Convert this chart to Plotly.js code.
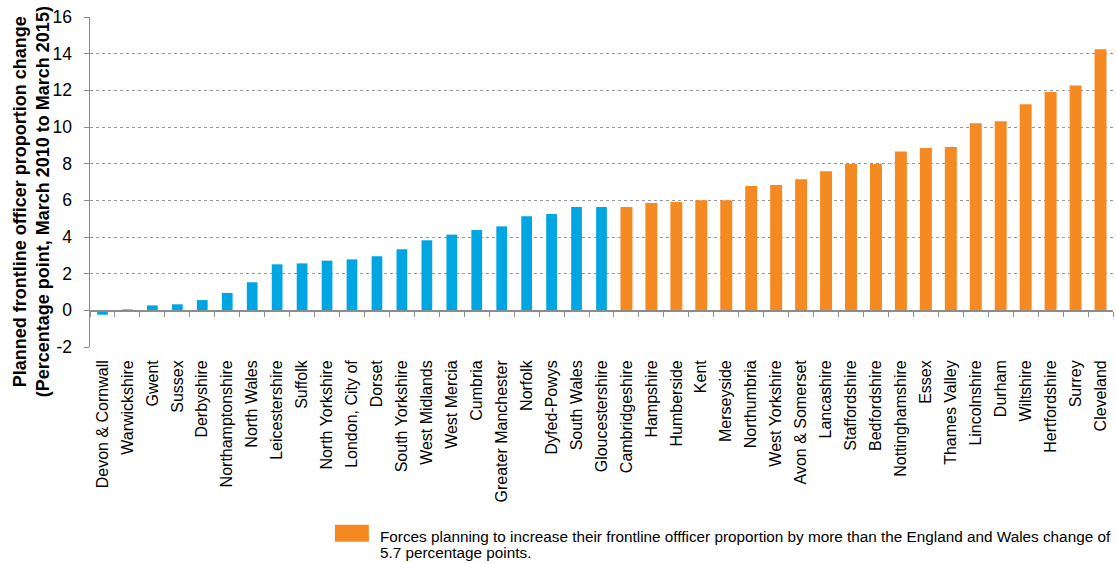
<!DOCTYPE html>
<html><head><meta charset="utf-8">
<script src="https://cdn.plot.ly/plotly-3.0.1.min.js"></script>
<style>html,body{margin:0;padding:0;background:#fff}#chart{width:1116px;height:563px}</style>
</head><body><div id="chart"></div>
<script>
const blueForces = ["Devon & Cornwall","Warwickshire","Gwent","Sussex","Derbyshire","Northamptonshire","North Wales","Leicestershire","Suffolk","North Yorkshire","London, City of","Dorset","South Yorkshire","West Midlands","West Mercia","Cumbria","Greater Manchester","Norfolk","Dyfed-Powys","South Wales","Gloucestershire"];
const blueValues = [-0.24,0.05,0.27,0.33,0.56,0.95,1.53,2.51,2.56,2.71,2.78,2.95,3.33,3.82,4.13,4.38,4.58,5.13,5.25,5.64,5.64];
const orangeForces = ["Cambridgeshire","Hampshire","Humberside","Kent","Merseyside","Northumbria","West Yorkshire","Avon & Somerset","Lancashire","Staffordshire","Bedfordshire","Nottinghamshire","Essex","Thames Valley","Lincolnshire","Durham","Wiltshire","Hertfordshire","Surrey","Cleveland"];
const orangeValues = [5.64,5.85,5.91,6.0,6.0,6.78,6.84,7.15,7.58,7.98,7.98,8.67,8.85,8.91,10.2,10.31,11.24,11.91,12.27,14.24];
const yTicks = [-2,0,2,4,6,8,10,12,14,16];
const legendLines = ["Forces planning to increase their frontline offficer proportion by more than the England and Wales change of", "5.7 percentage points."];
const yTitleLines = ["Planned frontline officer proportion change", "(Percentage point, March 2010 to March 2015)"];

const allForces = blueForces.concat(orangeForces);
const font = "Liberation Sans, Arial, sans-serif";
const yMin = -2, yMax = 16;
const blue = '#00A6E2', orange = '#F68A22';

// layout helpers: pixel -> paper fraction
const M = {l:90, r:2.5, t:16.5, b:216};
const W = 1116, H = 563;
const pw = W - M.l - M.r, ph = H - M.t - M.b;
const px = x => (x - M.l) / pw;
const py = y => (H - M.b - y) / ph;

const traces = [
  {type:'bar', x:blueForces, y:blueValues, marker:{color:blue}, width:0.43, showlegend:false, hoverinfo:'x+y'},
  {type:'bar', x:orangeForces, y:orangeValues, marker:{color:orange}, width:0.48, name:legendLines.join(' '), showlegend:false}
];

const annotations = [{text:yTitleLines.map(t=>'<b>'+t+'</b>').join('<br>'), xref:'paper', yref:'paper',
    x:px(31), y:py(202), xanchor:'center', yanchor:'middle', textangle:-90, showarrow:false,
    font:{size:18, family:font, color:'#000'}}];
legendLines.forEach((t,i)=>annotations.push({text:t, xref:'paper', yref:'paper', x:px(378), y:py(536.5 + i*16),
  xanchor:'left', yanchor:'middle', showarrow:false, font:{size:15.3, family:font, color:'#000'}}));

const layout = {
  width:W, height:H,
  margin:M,
  paper_bgcolor:'#fff', plot_bgcolor:'#fff',
  barmode:'overlay',
  font:{family:font, color:'#000'},
  showlegend:false,
  xaxis:{type:'category', categoryorder:'array', categoryarray:allForces,
    anchor:'free', position:(0 - yMin)/(yMax - yMin),
    tickangle:-90, tickfont:{size:16, family:font}, showgrid:false, zeroline:false,
    showline:true, linecolor:'#8c8c8c', linewidth:1.5,
    ticks:'outside', tickson:'boundaries', ticklen:5, tickcolor:'#8c8c8c',
    ticklabelstandoff:42, automargin:false},
  yaxis:{range:[yMin,yMax], tickvals:yTicks, ticktext:yTicks.map(String), tickfont:{size:17.5, family:font},
    showgrid:true, gridcolor:'#999', griddash:'dot', gridwidth:1,
    zeroline:true, zerolinecolor:'#8c8c8c', zerolinewidth:1.5,
    showline:true, linecolor:'#8c8c8c', linewidth:1.5,
    ticks:'outside', ticklen:5, tickcolor:'#8c8c8c', ticklabelstandoff:8, automargin:false},
  annotations:annotations,
  shapes:[{type:'rect', xref:'paper', yref:'paper', x0:px(335), x1:px(369), y0:py(542), y1:py(525),
    fillcolor:orange, line:{width:0}}]
};
Plotly.newPlot('chart', traces, layout, {displayModeBar:false, staticPlot:true});
</script></body></html>
